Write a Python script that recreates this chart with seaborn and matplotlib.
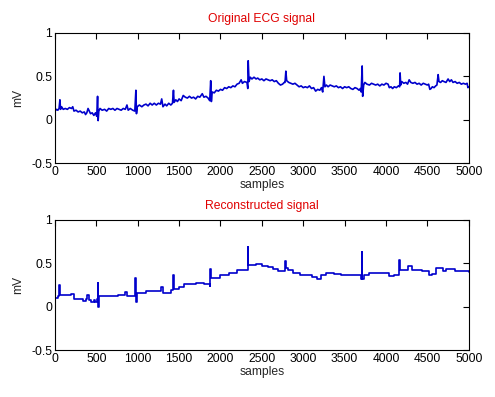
import matplotlib
matplotlib.use("Agg")
import matplotlib.pyplot as plt
import seaborn as sns
import pandas as pd

# 原始ECG信号, 每行10个点
orig_samples = [0, 20, 35, 50, 60, 68, 80, 100, 125, 150,
                175, 200, 215, 230, 255, 280, 305, 330, 355, 370,
                385, 400, 415, 430, 450, 470, 490, 505, 515, 522,
                530, 545, 570, 600, 625, 650, 675, 700, 725, 750,
                775, 800, 825, 850, 870, 885, 910, 940, 965, 978,
                985, 995, 1020, 1050, 1075, 1100, 1125, 1150, 1175, 1200,
                1225, 1250, 1275, 1290, 1305, 1330, 1350, 1375, 1400, 1420,
                1432, 1440, 1460, 1480, 1500, 1525, 1550, 1575, 1600, 1625,
                1650, 1675, 1700, 1725, 1750, 1780, 1800, 1825, 1850, 1870,
                1882, 1890, 1900, 1925, 1950, 1975, 2000, 2025, 2050, 2075,
                2100, 2125, 2150, 2175, 2200, 2225, 2250, 2265, 2290, 2320,
                2330, 2335, 2345, 2360, 2380, 2405, 2430, 2450, 2475, 2500,
                2525, 2550, 2575, 2600, 2625, 2650, 2675, 2700, 2725, 2750,
                2770, 2780, 2790, 2800, 2825, 2850, 2875, 2900, 2925, 2950,
                2975, 3000, 3025, 3050, 3075, 3100, 3125, 3150, 3175, 3200,
                3220, 3235, 3250, 3262, 3280, 3300, 3325, 3350, 3375, 3400,
                3425, 3450, 3475, 3500, 3525, 3550, 3575, 3600, 3625, 3650,
                3675, 3690, 3700, 3712, 3718, 3730, 3745, 3770, 3800, 3825,
                3850, 3875, 3900, 3925, 3950, 3975, 4000, 4025, 4040, 4060,
                4080, 4100, 4125, 4150, 4165, 4170, 4178, 4190, 4215, 4240,
                4260, 4280, 4300, 4325, 4350, 4375, 4400, 4425, 4450, 4475,
                4500, 4515, 4530, 4545, 4560, 4580, 4600, 4615, 4630, 4640,
                4660, 4680, 4700, 4725, 4750, 4770, 4790, 4810, 4835, 4860,
                4885, 4910, 4935, 4960, 4980, 4990, 5000]
orig_mv = [0.10, 0.12, 0.11, 0.13, 0.23, 0.12, 0.15, 0.12, 0.13, 0.12,
           0.14, 0.13, 0.15, 0.10, 0.11, 0.09, 0.10, 0.08, 0.09, 0.06,
           0.08, 0.13, 0.10, 0.07, 0.08, 0.05, 0.08, 0.04, 0.27, -0.01,
           0.10, 0.13, 0.11, 0.12, 0.10, 0.13, 0.12, 0.13, 0.11, 0.13,
           0.12, 0.11, 0.13, 0.12, 0.17, 0.11, 0.13, 0.11, 0.10, 0.34,
           0.07, 0.15, 0.17, 0.15, 0.17, 0.18, 0.16, 0.19, 0.17, 0.19,
           0.17, 0.19, 0.18, 0.24, 0.15, 0.18, 0.16, 0.19, 0.17, 0.19,
           0.34, 0.20, 0.23, 0.21, 0.24, 0.22, 0.28, 0.26, 0.25, 0.27,
           0.25, 0.26, 0.24, 0.27, 0.26, 0.30, 0.26, 0.27, 0.25, 0.22,
           0.45, 0.21, 0.32, 0.31, 0.34, 0.33, 0.35, 0.34, 0.37, 0.36,
           0.38, 0.37, 0.39, 0.38, 0.41, 0.42, 0.46, 0.42, 0.44, 0.43,
           0.36, 0.68, 0.44, 0.49, 0.47, 0.49, 0.47, 0.48, 0.46, 0.47,
           0.45, 0.47, 0.46, 0.45, 0.46, 0.44, 0.45, 0.42, 0.40, 0.41,
           0.43, 0.43, 0.56, 0.45, 0.43, 0.42, 0.41, 0.42, 0.40, 0.38,
           0.39, 0.37, 0.38, 0.37, 0.39, 0.36, 0.37, 0.33, 0.35, 0.34,
           0.37, 0.32, 0.50, 0.38, 0.40, 0.38, 0.40, 0.39, 0.38, 0.39,
           0.37, 0.38, 0.36, 0.38, 0.37, 0.38, 0.36, 0.35, 0.37, 0.36,
           0.34, 0.36, 0.32, 0.62, 0.27, 0.40, 0.43, 0.41, 0.40, 0.42,
           0.41, 0.40, 0.41, 0.39, 0.41, 0.40, 0.42, 0.41, 0.37, 0.38,
           0.36, 0.38, 0.37, 0.39, 0.38, 0.54, 0.40, 0.44, 0.42, 0.43,
           0.41, 0.46, 0.43, 0.42, 0.43, 0.41, 0.42, 0.40, 0.42, 0.41,
           0.40, 0.41, 0.35, 0.36, 0.38, 0.37, 0.39, 0.40, 0.52, 0.44,
           0.43, 0.45, 0.44, 0.43, 0.47, 0.44, 0.46, 0.43, 0.44, 0.42,
           0.43, 0.41, 0.42, 0.41, 0.42, 0.37, 0.38]

# 重构信号 (阶梯状)
rec_samples = [0, 40, 55, 62, 200, 230, 340, 370, 390, 410,
               440, 470, 490, 505, 515, 522, 528, 760, 850, 870,
               972, 980, 988, 1100, 1280, 1310, 1400, 1425, 1435, 1500,
               1560, 1700, 1800, 1870, 1878, 1886, 2000, 2100, 2200, 2328,
               2336, 2430, 2500, 2580, 2640, 2700, 2780, 2790, 2820, 2880,
               2960, 3110, 3170, 3210, 3270, 3370, 3460, 3560, 3698, 3705,
               3712, 3730, 3790, 4040, 4100, 4162, 4170, 4270, 4310, 4430,
               4520, 4560, 4610, 4690, 4730, 4830, 5000]
rec_mv = [0.10, 0.12, 0.25, 0.13, 0.15, 0.09, 0.07, 0.09, 0.13, 0.08,
          0.05, 0.08, 0.06, 0.09, 0.27, 0.00, 0.12, 0.13, 0.17, 0.12,
          0.33, 0.06, 0.16, 0.18, 0.23, 0.16, 0.19, 0.36, 0.21, 0.23,
          0.26, 0.27, 0.26, 0.24, 0.44, 0.33, 0.36, 0.39, 0.42, 0.69,
          0.48, 0.49, 0.47, 0.46, 0.44, 0.41, 0.53, 0.45, 0.42, 0.39,
          0.37, 0.34, 0.32, 0.37, 0.39, 0.38, 0.37, 0.36, 0.32, 0.63,
          0.32, 0.36, 0.39, 0.35, 0.37, 0.54, 0.42, 0.47, 0.42, 0.41,
          0.36, 0.38, 0.45, 0.41, 0.44, 0.41, 0.40]

x_ticks = [0, 500, 1000, 1500, 2000, 2500, 3000, 3500, 4000, 4500, 5000]
y_ticks = [-0.5, 0, 0.5, 1]
y_ticklabels = ['-0.5', '0', '0.5', '1']

sns.set_style('white')
plt.rcParams['font.family'] = ['Liberation Sans', 'DejaVu Sans']
plt.rcParams['font.size'] = 8.7
plt.rcParams['xtick.direction'] = 'in'
plt.rcParams['ytick.direction'] = 'in'

fig = plt.figure(figsize=(4.95, 3.97), dpi=100)
ax1 = fig.add_axes([0.111, 0.589, 0.836, 0.328])
ax2 = fig.add_axes([0.111, 0.118, 0.836, 0.328])

line_color = '#0000cc'

orig_df = pd.DataFrame({'samples': orig_samples, 'mV': orig_mv})
rec_df = pd.DataFrame({'samples': rec_samples, 'mV': rec_mv})

sns.lineplot(data=orig_df, x='samples', y='mV', ax=ax1, color=line_color,
             linewidth=1.2, estimator=None, sort=False)
sns.lineplot(data=rec_df, x='samples', y='mV', ax=ax2, color=line_color,
             linewidth=1.2, estimator=None, sort=False, drawstyle='steps-post')

titles = ['Original ECG signal', 'Reconstructed signal']
for ax, title in zip([ax1, ax2], titles):
    ax.set_xlim(0, 5000)
    ax.set_ylim(-0.5, 1)
    ax.set_xticks(x_ticks)
    ax.set_yticks(y_ticks)
    ax.set_yticklabels(y_ticklabels)
    ax.tick_params(top=True, right=True, length=4, width=0.8, labelsize=8.7, pad=2,
                   colors='black')
    for spine in ax.spines.values():
        spine.set_visible(True)
        spine.set_color('black')
        spine.set_linewidth(0.8)
    ax.set_title(title, color='#e00000', fontsize=8.7, pad=8)
    ax.set_xlabel('samples', fontsize=8.7, labelpad=1)
    ax.set_ylabel('mV', fontsize=8.7, labelpad=5)

fig.savefig('out.png', dpi=100)
